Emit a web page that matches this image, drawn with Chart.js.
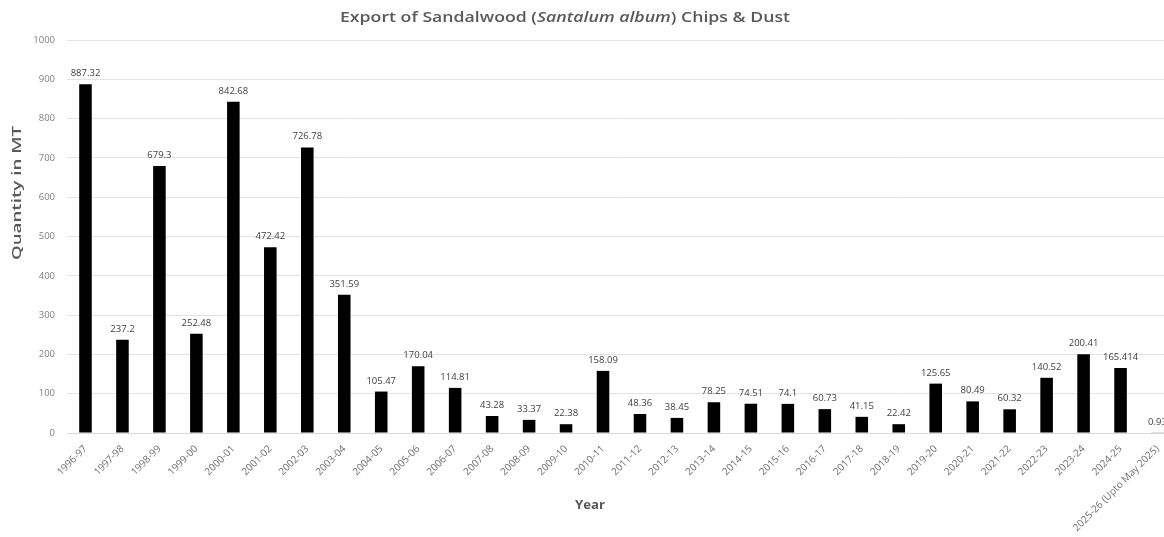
<!DOCTYPE html>
<html>
<head>
<meta charset="utf-8">
<title>Export of Sandalwood (Santalum album) Chips &amp; Dust</title>
<script src="https://cdn.jsdelivr.net/npm/chart.js@4/dist/chart.umd.min.js"></script>
<style>
  html, body { margin: 0; padding: 0; background: #ffffff; overflow: hidden; }
  #wrap { width: 1164px; height: 537px; overflow: hidden; }
  canvas { display: block; }
</style>
</head>
<body>
<div id="wrap"><canvas id="chart" width="1176" height="537"></canvas></div>
<script>
// Financial years of export
const years = [
  "1996-97", "1997-98", "1998-99", "1999-00", "2000-01", "2001-02", "2002-03",
  "2003-04", "2004-05", "2005-06", "2006-07", "2007-08", "2008-09", "2009-10",
  "2010-11", "2011-12", "2012-13", "2013-14", "2014-15", "2015-16", "2016-17",
  "2017-18", "2018-19", "2019-20", "2020-21", "2021-22", "2022-23", "2023-24",
  "2024-25", "2025-26 (Upto May 2025)"
];

// Quantity exported, metric tonnes
const quantityMT = [
  887.32, 237.2, 679.3, 252.48, 842.68, 472.42, 726.78,
  351.59, 105.47, 170.04, 114.81, 43.28, 33.37, 22.38,
  158.09, 48.36, 38.45, 78.25, 74.51, 74.1, 60.73,
  41.15, 22.42, 125.65, 80.49, 60.32, 140.52, 200.41,
  165.414, 0.93
];

// Value axis ticks
const yTicks = [0, 100, 200, 300, 400, 500, 600, 700, 800, 900, 1000];

const FONT = "'Open Sans', 'DejaVu Sans', sans-serif";
const TEXT_GREY = "#595959";

// Draws a run of differently styled pieces, stretched to a set length along the text direction
function drawStretched(ctx, parts, cx, cy, length, angle) {
  let natural = 0;
  parts.forEach(p => { ctx.font = p.f; p.w = ctx.measureText(p.t).width; natural += p.w; });
  const k = length / natural;
  ctx.save();
  ctx.translate(cx, cy);
  ctx.rotate(angle);
  ctx.scale(k, 1);
  ctx.textAlign = "left";
  ctx.textBaseline = "middle";
  let x = -natural / 2;
  parts.forEach(p => { ctx.font = p.f; ctx.fillText(p.t, x, 0); x += p.w; });
  ctx.restore();
}

// Value labels above each bar
const barValueLabels = {
  id: "barValueLabels",
  afterDatasetsDraw(chart) {
    const ctx = chart.ctx;
    const meta = chart.getDatasetMeta(0);
    ctx.save();
    ctx.font = "9.5px " + FONT;
    ctx.fillStyle = "#404040";
    ctx.textAlign = "center";
    ctx.textBaseline = "bottom";
    meta.data.forEach((bar, i) => {
      ctx.fillText(String(quantityMT[i]), bar.x, bar.y - 6);
    });
    ctx.restore();
  }
};

// Chart heading (botanical name in italics) and both axis captions
const headings = {
  id: "headings",
  afterDraw(chart) {
    const ctx = chart.ctx;
    ctx.save();
    ctx.fillStyle = TEXT_GREY;
    drawStretched(ctx, [
      { t: "Export of Sandalwood (", f: "600 14px " + FONT },
      { t: "Santalum album", f: "italic 600 14px " + FONT },
      { t: ") Chips & Dust", f: "600 14px " + FONT }
    ], 565, 18, 450, 0);
    drawStretched(ctx, [{ t: "Year", f: "bold 12px " + FONT }], 590, 506, 30, 0);
    drawStretched(ctx, [{ t: "Quantity in MT", f: "600 12px " + FONT }], 18, 193, 134, -Math.PI / 2);
    ctx.restore();
  }
};

new Chart(document.getElementById("chart"), {
  type: "bar",
  data: {
    labels: years,
    datasets: [{
      label: "Quantity in MT",
      data: quantityMT,
      backgroundColor: "#000000",
      borderWidth: 0,
      barPercentage: 0.34,
      categoryPercentage: 1.0
    }]
  },
  options: {
    responsive: false,
    devicePixelRatio: 1,
    animation: false,
    layout: { padding: { top: 40, right: 0, left: 0, bottom: 0 } },
    plugins: {
      legend: { display: false },
      title: { display: false },
      tooltip: { enabled: false }
    },
    scales: {
      x: {
        grid: { display: false, drawTicks: false },
        border: { display: true, color: "#d9d9d9", width: 1 },
        ticks: {
          color: "#6f6f6f",
          font: { family: FONT, size: 10 },
          minRotation: 45,
          maxRotation: 45,
          autoSkip: false,
          padding: 10
        },
        afterFit(scale) { scale.height = 104; }
      },
      y: {
        min: 0,
        max: 1000,
        afterBuildTicks(scale) { scale.ticks = yTicks.map(v => ({ value: v })); },
        grid: { color: "#e3e3e3", lineWidth: 1, drawTicks: false },
        border: { display: false },
        ticks: {
          color: "#7f7f7f",
          font: { family: FONT, size: 9.5 },
          padding: 12,
          callback: v => String(v)
        },
        afterFit(scale) { scale.width = 67; }
      }
    }
  },
  plugins: [barValueLabels, headings]
});
</script>
</body>
</html>
